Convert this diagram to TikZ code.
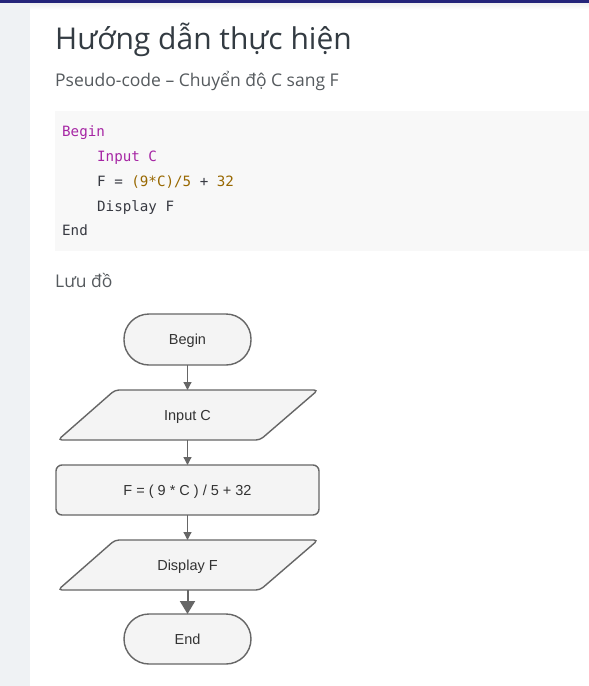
\documentclass[tikz,border=0pt]{standalone}
\usepackage{fontspec}
\setmainfont{Open Sans}
\newfontfamily\flowfont{Liberation Sans}
\newfontfamily\codefont{DejaVu Sans Mono}
\usetikzlibrary{arrows.meta}
\definecolor{navybar}{HTML}{25257A}
\definecolor{sidegray}{HTML}{EFF2F4}
\definecolor{codebg}{HTML}{F8F8F8}
\definecolor{titlecol}{HTML}{333B42}
\definecolor{subcol}{HTML}{555A5E}
\definecolor{kw}{HTML}{A626A4}
\definecolor{num}{HTML}{986801}
\definecolor{plain}{HTML}{383A42}
\definecolor{shapefill}{HTML}{F4F4F4}
\definecolor{shapeline}{HTML}{666666}
\definecolor{flowtext}{HTML}{333333}
\tikzset{
  shapestyle/.style={draw=shapeline, fill=shapefill, line width=1.4pt},
  flowlabel/.style={inner sep=0pt, outer sep=0pt, text height=10.5pt, text depth=0pt, font=\flowfont\fontsize{14.5}{17}\selectfont, text=flowtext},
  conn/.style={draw=shapeline, line width=1.2pt, -{Triangle[length=8pt,width=8pt]}},
  bigconn/.style={draw=shapeline, line width=2pt, -{Triangle[length=13pt,width=15pt]}},
  codeline/.style={anchor=base west, inner sep=0pt, font=\codefont\fontsize{14.2}{17}\selectfont, text=plain},
}
\begin{document}
\begin{tikzpicture}[x=1pt,y=-1pt]
\useasboundingbox (0,0) rectangle (589,686);
\fill[white] (0,0) rectangle (589,686);
\fill[sidegray] (0,0) rectangle (30,686);
\shade[top color=black!7, bottom color=white] (30,2) rectangle (589,9);
\fill[navybar] (0,0) rectangle (589,2.5);
% headings
\node[anchor=base west, inner sep=0pt, text=titlecol, font=\fontsize{30}{36}\selectfont] (title) at (55,49) {Hướng dẫn thực hiện};
\node[anchor=base west, inner sep=0pt, text=subcol, font=\fontsize{17.5}{21}\selectfont] (sub) at (55,86) {Pseudo-code – Chuyển độ C sang F};
% code block
\fill[codebg] (55,111) rectangle (589,251);
\node[codeline] (c1) at (62,136) {\textcolor{kw}{Begin}};
\node[codeline] (c2) at (97,161) {\textcolor{kw}{Input C}};
\node[codeline] (c3) at (97,186) {F = \textcolor{num}{(9*C)/5} + \textcolor{num}{32}};
\node[codeline] (c4) at (97,211) {Display F};
\node[codeline] (c5) at (62,235) {End};
\node[anchor=base west, inner sep=0pt, text=subcol, font=\fontsize{17.5}{21}\selectfont] (luudo) at (55,287) {Lưu đồ};
% flowchart shapes
\draw[shapestyle, rounded corners=25pt] (124,314) rectangle (251,365);
\draw[shapestyle, rounded corners=4pt] (115,390) -- (318,390) -- (260,440) -- (58,440) -- cycle;
\draw[shapestyle, rounded corners=6pt] (56,465) rectangle (319,515);
\draw[shapestyle, rounded corners=4pt] (115,540) -- (318,540) -- (260,590) -- (58,590) -- cycle;
\draw[shapestyle, rounded corners=25pt] (124,614) rectangle (251,664);
% flowchart nodes
\node[flowlabel, minimum height=51pt, minimum width=120pt] (begin) at (187.5,339.5) {Begin};
\node[flowlabel, minimum height=50pt, minimum width=150pt] (input) at (187.5,415) {Input C};
\node[flowlabel, minimum height=50pt, minimum width=200pt] (calc) at (187.5,490) {F = ( 9 * C ) / 5 + 32};
\node[flowlabel, minimum height=50pt, minimum width=150pt] (display) at (187.5,565) {Display F};
\node[flowlabel, minimum height=50pt, minimum width=120pt] (end) at (187.5,639) {End};
% connectors
\draw[conn] (begin.south) -- (input.north);
\draw[conn] (input.south) -- (calc.north);
\draw[conn] (calc.south) -- (display.north);
\draw[bigconn] (display.south) -- (end.north);
\end{tikzpicture}
\end{document}
